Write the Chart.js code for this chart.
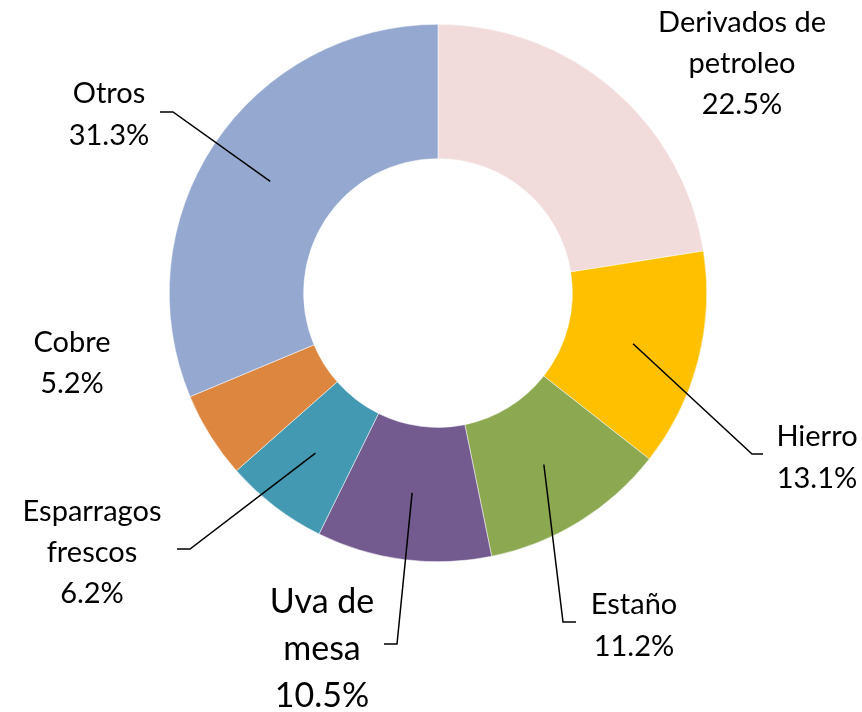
<!DOCTYPE html>
<html>
<head>
<meta charset="utf-8">
<script src="https://cdn.jsdelivr.net/npm/chart.js@4"></script>
<style>
  html, body { margin: 0; padding: 0; background: #fff; }
  #wrap { width: 862px; height: 712px; }
</style>
</head>
<body>
<div id="wrap"><canvas id="donut"></canvas></div>
<script>
const categories = ['Derivados de petroleo', 'Hierro', 'Estaño', 'Uva de mesa', 'Esparragos frescos', 'Cobre', 'Otros'];
const shares = [22.5, 13.1, 11.2, 10.5, 6.2, 5.2, 31.3];
const colors = ['#F2DCDB', '#FFC000', '#8CA851', '#735A8F', '#4299B1', '#DC863F', '#95A9D0'];

// label text lines (name split like the original)
const labelLines = [
  ['Derivados de', 'petroleo'],
  ['Hierro'],
  ['Estaño'],
  ['Uva de', 'mesa'],
  ['Esparragos', 'frescos'],
  ['Cobre'],
  ['Otros']
];

// label placement, offsets from the chart centre (px)
const labelLayout = [
  { x: 304, y: -271, size: 29, lh: 41 },
  { x: 379, y: 143, size: 29, lh: 42, elbow: [314, 161], end: [325, 161] },
  { x: 196, y: 311, size: 29, lh: 42, elbow: [125, 329], end: [138, 329] },
  { x: -116, y: 308, size: 34, lh: 47, elbow: [-41, 351], end: [-54, 351] },
  { x: -346, y: 218, size: 29, lh: 41, elbow: [-248, 256], end: [-261, 256] },
  { x: -366, y: 49, size: 29, lh: 41 },
  { x: -329, y: -200, size: 29, lh: 42, elbow: [-265, -181], end: [-278, -181] }
];

const calloutPlugin = {
  id: 'callouts',
  afterDatasetsDraw(chart) {
    const ctx = chart.ctx;
    const arcs = chart.getDatasetMeta(0).data;
    ctx.save();
    arcs.forEach((arc, i) => {
      const cx = arc.x, cy = arc.y;
      const lay = labelLayout[i];
      if (lay.elbow) {
        const p = arc.getCenterPoint();
        ctx.beginPath();
        ctx.strokeStyle = '#000';
        ctx.lineWidth = 1.5;
        ctx.moveTo(p.x, p.y);
        ctx.lineTo(cx + lay.elbow[0], cy + lay.elbow[1]);
        ctx.lineTo(cx + lay.end[0], cy + lay.end[1]);
        ctx.stroke();
      }
      const lines = labelLines[i].concat([shares[i].toFixed(1) + '%']);
      ctx.fillStyle = '#000';
      ctx.textAlign = 'center';
      ctx.textBaseline = 'alphabetic';
      ctx.font = lay.size + 'px Lato';
      lines.forEach((t, k) => {
        const y = cy + lay.y + k * lay.lh + lay.size * 0.36;
        ctx.fillText(t, cx + lay.x, y);
      });
    });
    ctx.restore();
  }
};

new Chart(document.getElementById('donut'), {
  type: 'doughnut',
  data: {
    labels: categories,
    datasets: [{
      data: shares,
      backgroundColor: colors,
      borderColor: '#ffffff',
      borderWidth: 0.5
    }]
  },
  options: {
    responsive: true,
    maintainAspectRatio: false,
    animation: false,
    cutout: '50%',
    layout: { padding: { left: 169, right: 155, top: 24, bottom: 150 } },
    plugins: {
      legend: { display: false },
      tooltip: { enabled: false }
    }
  },
  plugins: [calloutPlugin]
});
</script>
</body>
</html>
